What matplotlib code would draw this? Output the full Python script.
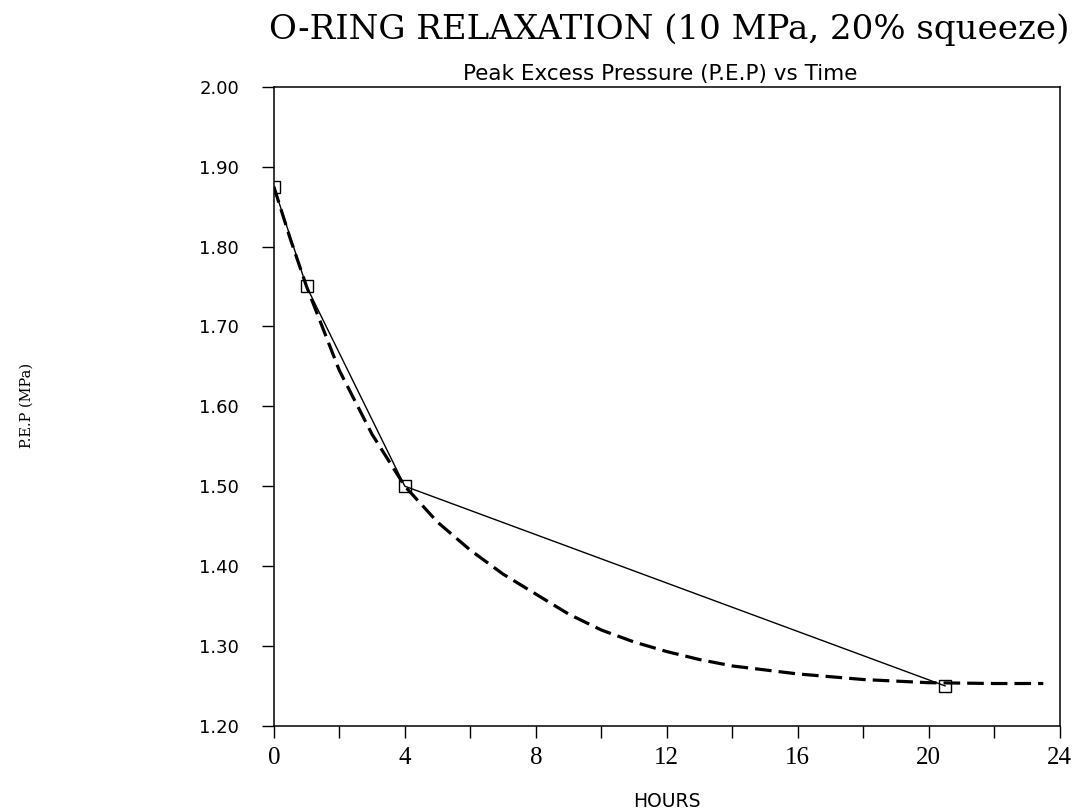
import matplotlib

matplotlib.use("Agg")
import matplotlib.pyplot as plt
from matplotlib.ticker import MultipleLocator

# measured points (hours, MPa)
hours = [0.0, 1.0, 4.0, 20.5]
pep = [1.875, 1.75, 1.50, 1.25]

# dashed trend curve
curve_t = [0.0, 0.5, 1.0, 2.0, 3.0, 4.0, 5.0, 6.0, 7.0, 8.0, 9.0, 10.0,
           11.0, 12.0, 13.0, 14.0, 16.0, 18.0, 20.0, 22.0, 23.5]
curve_p = [1.875, 1.81, 1.75, 1.645, 1.565, 1.50, 1.455, 1.42, 1.39, 1.365,
           1.34, 1.32, 1.305, 1.293, 1.283, 1.275, 1.265, 1.258, 1.254, 1.253, 1.253]

xticks = [0, 4, 8, 12, 16, 20, 24]
yticks = [1.20, 1.30, 1.40, 1.50, 1.60, 1.70, 1.80, 1.90, 2.00]

fig = plt.figure(figsize=(10.78, 8.11), dpi=100)
ax = fig.add_axes([0.254, 0.105, 0.729, 0.788])

ax.plot(curve_t, curve_p, color="black", lw=2.3, ls=(0, (5.2, 2.2)))
ax.plot(hours, pep, color="black", lw=1.0, marker="s", ms=8,
        mfc="none", mec="black", mew=1.0)

ax.set_xlim(0, 24)
ax.set_ylim(1.20, 2.00)
ax.set_xticks(xticks)
ax.xaxis.set_minor_locator(MultipleLocator(2))
ax.set_yticks(yticks)
ax.set_yticklabels([f"{v:.2f}" for v in yticks], family="DejaVu Sans", fontsize=13)
ax.set_xticklabels([str(v) for v in xticks], family="Liberation Serif", fontsize=18)
ax.tick_params(which="both", direction="out", length=8.5, width=1.0)
ax.tick_params(axis="y", pad=16.5)
ax.tick_params(axis="x", pad=7)
for s in ax.spines.values():
    s.set_linewidth(1.1)

fig.text(0.619, 0.005, "HOURS", ha="center", va="baseline",
         family="DejaVu Sans", fontsize=13.5)
fig.text(0.025, 0.5, "P.E.P (MPa)", rotation=90, va="center", ha="center",
         family="DejaVu Serif", fontsize=10.5)

fig.text(0.621, 0.952, "O-RING RELAXATION (10 MPa, 20% squeeze)",
         ha="center", va="baseline", family="DejaVu Serif", fontsize=24.5)
fig.text(0.612, 0.901, "Peak Excess Pressure (P.E.P) vs Time",
         ha="center", va="baseline", family="DejaVu Sans", fontsize=15.5)

fig.savefig("out.png", dpi=100)
